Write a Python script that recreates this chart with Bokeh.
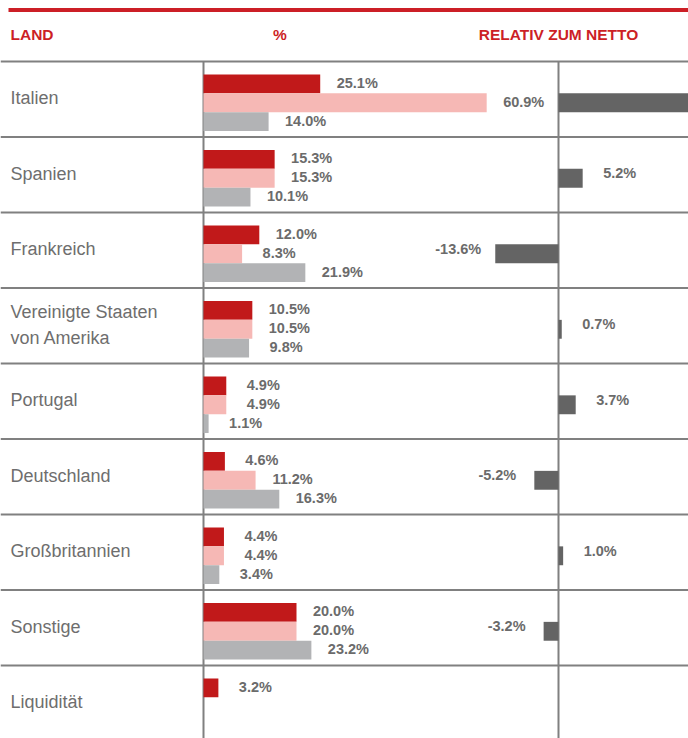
from bokeh.plotting import figure
from bokeh.models import Range1d, Span, Label, ColumnDataSource
from bokeh.core.properties import value
from bokeh.embed import file_html
from bokeh.resources import INLINE

# ---------------- data ----------------
countries = ["Italien", "Spanien", "Frankreich", "Vereinigte Staaten\nvon Amerika",
             "Portugal", "Deutschland", "Großbritannien", "Sonstige", "Liquidität"]
fonds = [25.1, 15.3, 12.0, 10.5, 4.9, 4.6, 4.4, 20.0, 3.2]
netto = [60.9, 15.3, 8.3, 10.5, 4.9, 11.2, 4.4, 20.0, None]
benchmark = [14.0, 10.1, 21.9, 9.8, 1.1, 16.3, 3.4, 23.2, None]
relativ = [46.9, 5.2, -13.6, 0.7, 3.7, -5.2, 1.0, -3.2, None]
headers = ["LAND", "%", "RELATIV ZUM NETTO"]

# ---------------- layout / style ----------------
W, H = 688, 738
PX_PER_PCT = 4.65
ROW_PX = 75.5
AXIS_PX = 203
REL_AXIS_PX = 558
HEADER_PX = 61

RED = "#C1191A"
PINK = "#F6B8B5"
GREY = "#B2B3B5"
DARK = "#646464"
LINE = "#808080"
HEAD_RED = "#CC1F26"
LAB = "#6B6B6B"
CAT = "#6E6E6E"
BOLD = "'Liberation Sans', Arial, sans-serif"
SANS = "'Liberation Sans', Arial, sans-serif"

x_range = Range1d(-AXIS_PX / PX_PER_PCT, (W - AXIS_PX) / PX_PER_PCT)
rel_range = Range1d(-REL_AXIS_PX / PX_PER_PCT, (W - REL_AXIS_PX) / PX_PER_PCT)
y_top = HEADER_PX / ROW_PX
y_range = Range1d(y_top - H / ROW_PX, y_top)

p = figure(width=W, height=H, x_range=x_range, y_range=y_range,
           output_backend="svg", toolbar_location=None, min_border=0,
           x_axis_type=None, y_axis_type=None)
p.extra_x_ranges = {"rel": rel_range}
p.outline_line_color = None
p.grid.visible = False
p.background_fill_color = "white"
p.border_fill_color = "white"

# grid lines
for i in range(len(countries)):
    p.add_layout(Span(location=-i, dimension="width", line_color=LINE, line_width=2))
p.segment(x0=[0], y0=[0], x1=[0], y1=[y_range.start], line_color=LINE, line_width=2)
p.segment(x0=[0], y0=[0], x1=[0], y1=[y_range.start], line_color=LINE, line_width=2,
          x_range_name="rel")

# top red rule
p.segment(x0=[x_range.start + 8 / PX_PER_PCT], y0=[y_top - 9.5 / ROW_PX],
          x1=[x_range.end], y1=[y_top - 9.5 / ROW_PX],
          line_color=HEAD_RED, line_width=4)

# bars
offsets = [0.297, 0.547, 0.797]
BAR_H = 0.25
LABEL_OFF = 37
for k, (vals, color) in enumerate([(fonds, RED), (netto, PINK), (benchmark, GREY)]):
    rows = [i for i, v in enumerate(vals) if v is not None]
    src = ColumnDataSource(dict(
        y=[-i - offsets[k] for i in rows],
        v=[vals[i] for i in rows],
        lab=[f"{vals[i]:.1f}%" for i in rows]))
    p.hbar(y="y", left=0, right="v", height=BAR_H, fill_color=color, line_color=None, source=src)
    p.text(x="v", y="y", text="lab", x_offset=LABEL_OFF, y_offset=-1, text_align="center",
           text_baseline="middle", text_font=value(BOLD), text_font_style="bold",
           text_font_size="14.5px", text_color=LAB, source=src)

# relative bars
rows = [i for i, v in enumerate(relativ) if v is not None]
rsrc = ColumnDataSource(dict(
    y=[-i - offsets[1] for i in rows],
    v=[relativ[i] for i in rows]))
p.hbar(y="y", left=0, right="v", height=BAR_H, fill_color=DARK, line_color=None,
       source=rsrc, x_range_name="rel")
# labels only where they fall inside the panel (the Italy bar runs off the edge)
lrows = [i for i in rows
         if rel_range.start < relativ[i] + (LABEL_OFF + 20) / PX_PER_PCT * (1 if relativ[i] >= 0 else -1) < rel_range.end]
lsrc = ColumnDataSource(dict(
    y=[-i - offsets[1] for i in lrows],
    v=[relativ[i] for i in lrows],
    lab=[f"{relativ[i]:.1f}%" for i in lrows],
    xo=[LABEL_OFF if relativ[i] >= 0 else -LABEL_OFF for i in lrows]))
p.text(x="v", y="y", text="lab", x_offset="xo", y_offset=-5, text_align="center",
       text_baseline="middle", text_font=value(BOLD), text_font_style="bold",
       text_font_size="14.5px", text_color=LAB, source=lsrc, x_range_name="rel")

# category labels
csrc = ColumnDataSource(dict(x=[x_range.start] * len(countries),
                             y=[-i - 0.49 for i in range(len(countries))],
                             t=countries))
p.text(x="x", y="y", text="t", x_offset=10, text_align="left", text_baseline="middle",
       text_font=value(SANS), text_font_size="18px", text_color=CAT,
       text_line_height=1.28, source=csrc)

# headers
hy = H - 34
p.add_layout(Label(x=10, y=hy, x_units="screen", y_units="screen", text=headers[0],
                   text_font=BOLD, text_font_style="bold", text_font_size="15.5px",
                   text_color=HEAD_RED, text_baseline="middle", text_align="left"))
p.add_layout(Label(x=279.5, y=hy, x_units="screen", y_units="screen", text=headers[1],
                   text_font=BOLD, text_font_style="bold", text_font_size="15.5px",
                   text_color=HEAD_RED, text_baseline="middle", text_align="center"))
p.add_layout(Label(x=0, y=hy, x_range_name="rel", y_units="screen", text=headers[2],
                   text_font=BOLD, text_font_style="bold", text_font_size="15.5px",
                   text_color=HEAD_RED, text_baseline="middle", text_align="center"))

open("out.html", "w").write(file_html(p, INLINE))
